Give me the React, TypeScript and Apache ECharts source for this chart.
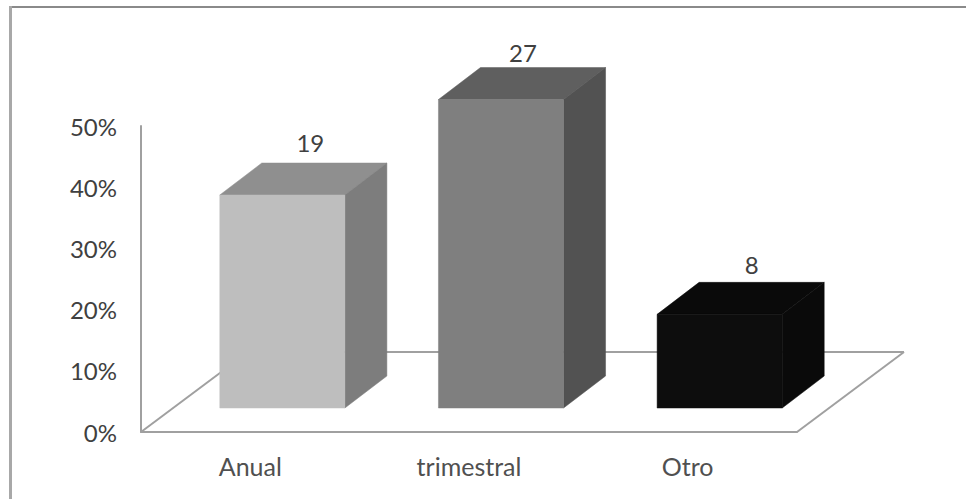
import React, { useEffect, useRef } from "react";
import * as echarts from "echarts";

// Share of responses per payment period, in percent, with the response counts above each block.
const categories = ["Anual", "trimestral", "Otro"];
const shares = [34.8, 50.4, 15.3];
const counts = [19, 27, 8];
const yTicks = [0, 10, 20, 30, 40, 50];

// Shades for each block's three visible faces.
const frontColors = ["#bebebe", "#7f7f7f", "#0d0d0d"];
const topColors = ["#8f8f8f", "#5f5f5f", "#0a0a0a"];
const sideColors = ["#7d7d7d", "#525252", "#0a0a0a"];

// Perspective of the floor and of the blocks standing on it, in pixels.
const FLOOR_DX = 107;
const FLOOR_DY = 80;
const INSET_DX = 32;
const INSET_DY = 24;
const BLOCK_DX = 42;
const BLOCK_DY = 32;
const BLOCK_WIDTH_RATIO = 0.572;
const AXIS_COLOR = "#a0a0a0";
const AXIS_WIDTH = 2;
const TEXT_COLOR = "#404040";

// Fine placement of the count above each block, relative to its back top edge.
const countNudgeX = [28, 22, 32];
const countNudgeY = [-21, -15, -18];

function renderBlock(params: any, api: any) {
  const i = api.value(0);
  const share = api.value(1);
  const sys = params.coordSys;
  const bottom = api.coord([i, 0]);
  const top = api.coord([i, share]);
  const width = api.size([1, 0])[0] * BLOCK_WIDTH_RATIO;

  const left = bottom[0] + INSET_DX - width / 2;
  const right = left + width;
  const yBase = bottom[1] - INSET_DY;
  const yTop = top[1] - INSET_DY;

  const children: any[] = [];

  // The floor outline is laid down once, beneath the first block.
  if (params.dataIndex === 0) {
    const x0 = sys.x;
    const x1 = sys.x + sys.width;
    const y0 = sys.y + sys.height;
    const floor = [
      [x0, y0, x0 + FLOOR_DX, y0 - FLOOR_DY],
      [x0 + FLOOR_DX, y0 - FLOOR_DY, x1 + FLOOR_DX, y0 - FLOOR_DY],
      [x1, y0, x1 + FLOOR_DX, y0 - FLOOR_DY],
    ];
    floor.forEach(([ax, ay, bx, by]) =>
      children.push({
        type: "line",
        shape: { x1: ax, y1: ay, x2: bx, y2: by },
        style: { stroke: AXIS_COLOR, lineWidth: AXIS_WIDTH },
      })
    );
  }

  children.push(
    {
      type: "polygon",
      shape: {
        points: [
          [left, yTop],
          [left + BLOCK_DX, yTop - BLOCK_DY],
          [right + BLOCK_DX, yTop - BLOCK_DY],
          [right, yTop],
        ],
      },
      style: { fill: topColors[i], stroke: topColors[i], lineWidth: 0.5 },
    },
    {
      type: "polygon",
      shape: {
        points: [
          [right, yTop],
          [right + BLOCK_DX, yTop - BLOCK_DY],
          [right + BLOCK_DX, yBase - BLOCK_DY],
          [right, yBase],
        ],
      },
      style: { fill: sideColors[i], stroke: sideColors[i], lineWidth: 0.5 },
    },
    {
      type: "rect",
      shape: { x: left, y: yTop, width, height: yBase - yTop },
      style: { fill: frontColors[i], stroke: frontColors[i], lineWidth: 0.5 },
    },
    {
      type: "text",
      x: left + width / 2 + countNudgeX[i],
      y: yTop - BLOCK_DY + countNudgeY[i],
      style: {
        text: String(counts[i]),
        font: "24px Lato",
        fill: TEXT_COLOR,
        align: "center",
        verticalAlign: "middle",
      },
    }
  );

  return { type: "group", children };
}

export default function App() {
  const ref = useRef<HTMLDivElement>(null);

  useEffect(() => {
    document.body.style.margin = "0";
    const chart = echarts.init(ref.current!, undefined, { renderer: "svg" });
    chart.setOption({
      animation: false,
      backgroundColor: "#ffffff",
      grid: { left: 141, right: 169, top: 126, bottom: 67 },
      xAxis: {
        type: "category",
        data: categories,
        axisLine: { show: true, lineStyle: { color: AXIS_COLOR, width: AXIS_WIDTH } },
        axisTick: { show: false },
        axisLabel: { color: "#505050", fontFamily: "Lato", fontSize: 25, margin: 21 },
      },
      yAxis: {
        type: "value",
        min: yTicks[0],
        max: yTicks[yTicks.length - 1],
        interval: 10,
        splitLine: { show: false },
        axisLine: { show: true, lineStyle: { color: AXIS_COLOR, width: AXIS_WIDTH } },
        axisTick: { show: false },
        axisLabel: {
          color: TEXT_COLOR,
          fontFamily: "Lato",
          fontSize: 24,
          margin: 24,
          formatter: "{value}%",
        },
      },
      // Outer frame: only the top and left edges are drawn.
      graphic: [
        {
          type: "line",
          silent: true,
          shape: { x1: 9, y1: 7, x2: 966, y2: 7 },
          style: { stroke: "#8a8a8a", lineWidth: 2 },
        },
        {
          type: "line",
          silent: true,
          shape: { x1: 10.5, y1: 6, x2: 10.5, y2: 499 },
          style: { stroke: "#a8a8a8", lineWidth: 3 },
        },
      ],
      series: [
        {
          type: "custom",
          renderItem: renderBlock,
          clip: false,
          encode: { x: 0, y: 1 },
          data: shares.map((share, i) => [i, share]),
        },
      ],
    });
    return () => chart.dispose();
  }, []);

  return <div ref={ref} style={{ width: 966, height: 499 }} />;
}
